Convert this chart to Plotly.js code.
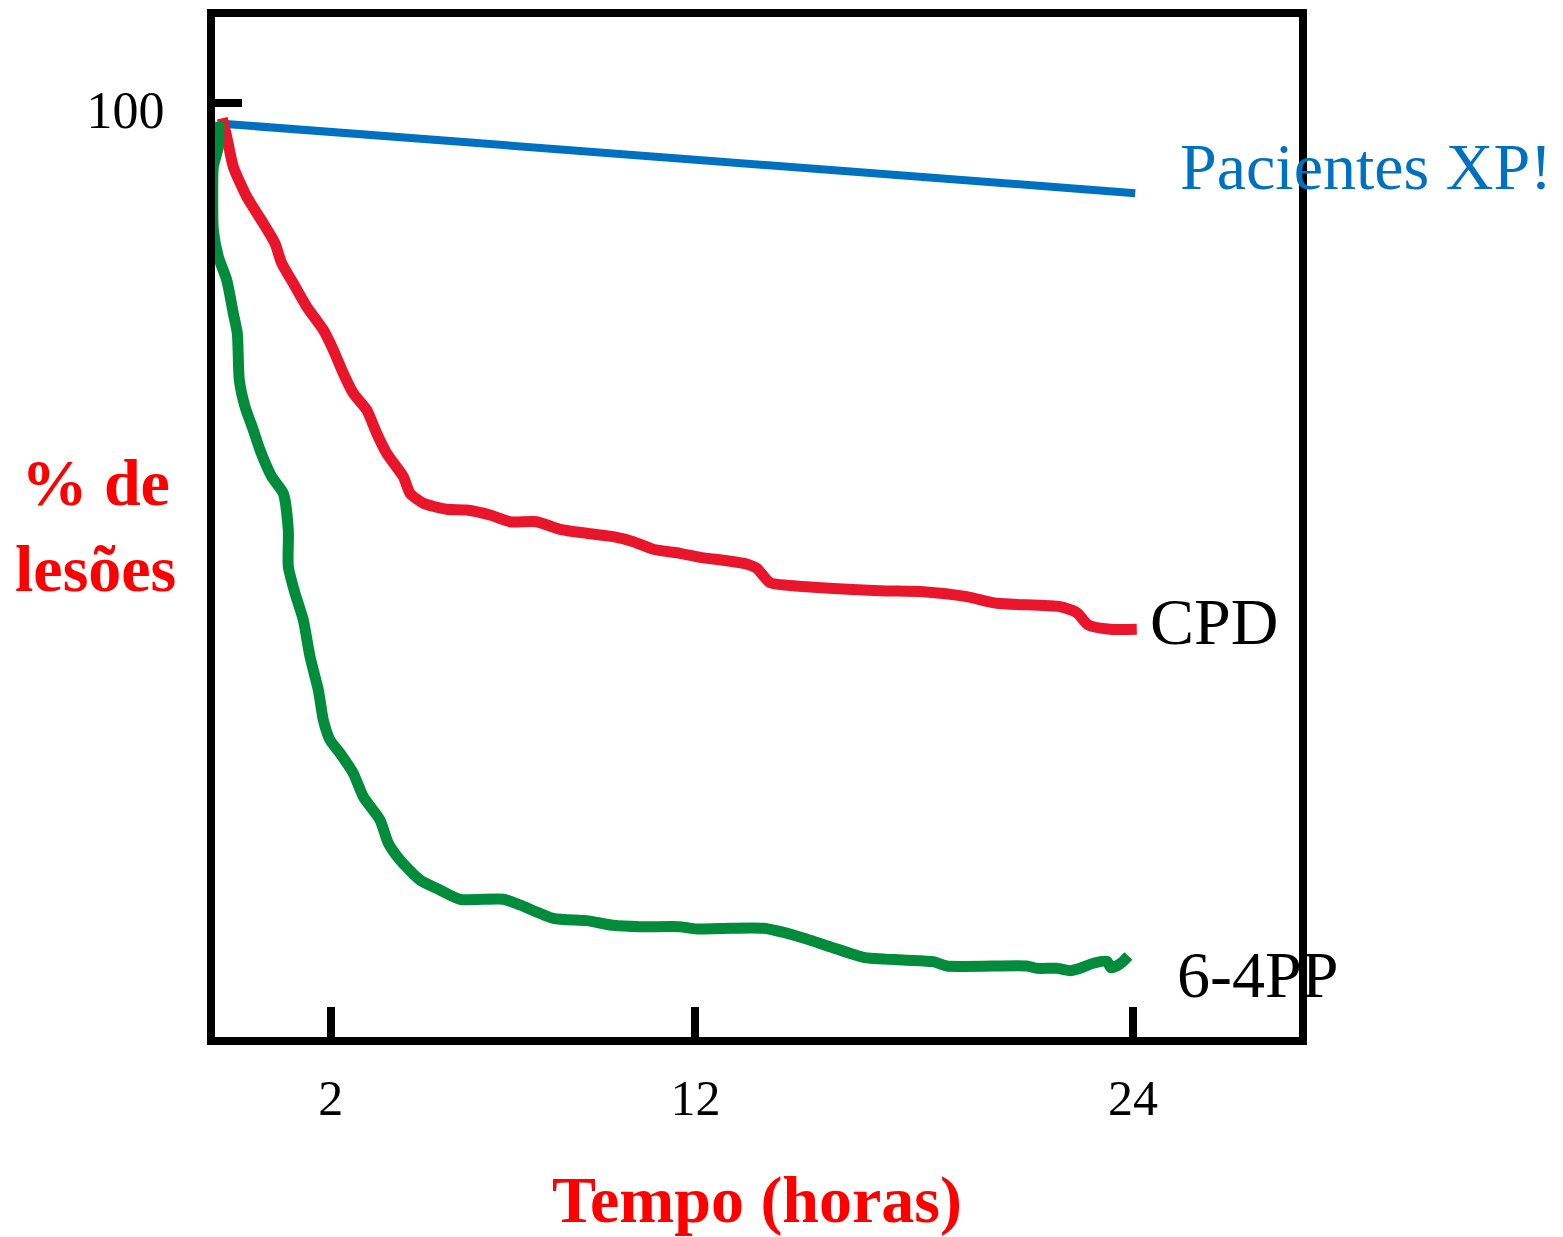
<!DOCTYPE html>
<html>
<head>
<meta charset="utf-8">
<script src="https://cdn.plot.ly/plotly-3.0.1.min.js"></script>
<style>html,body{margin:0;padding:0;background:#fff;}#chart{width:1563px;height:1237px;}</style>
</head>
<body>
<div id="chart"></div>
<script>
// ---- data (time in hours, % of lesions remaining) ----
const xpHours = [-0.87, 24.06];
const xpValues = [97.7, 90.3];

const cpdHours = [-0.971, -0.850, -0.669, -0.302, 0.154, 0.474, 0.658, 0.976, 1.344, 1.799,
  2.073, 2.347, 2.621, 2.989, 3.263, 3.537, 3.992, 4.176, 4.541, 5.182,
  5.731, 6.370, 6.918, 7.650, 8.289, 9.021, 9.751, 10.299, 10.847, 11.580,
  12.128, 12.860, 13.408, 13.683, 14.047, 15.054, 17.063, 18.251, 19.441, 20.263,
  21.999, 22.457, 22.775, 23.370, 24.102];
const cpdValues = [98.31, 96.34, 93.13, 89.92, 87.07, 84.93, 82.79, 80.65, 78.15, 75.66,
  73.52, 71.02, 68.88, 67.10, 64.60, 62.46, 59.96, 58.18, 57.11, 56.47,
  56.39, 55.86, 55.14, 55.14, 54.33, 53.90, 53.54, 53.00, 52.19, 51.76,
  51.33, 50.97, 50.62, 50.16, 48.62, 48.19, 47.76, 47.65, 47.12, 46.41,
  46.05, 45.41, 44.09, 43.63, 43.63];

const pp64Hours = [-1.061, -1.080, -1.217, -1.234, -1.217, -1.080, -0.850, -0.669, -0.559, -0.505,
  -0.348, -0.121, 0.063, 0.384, 0.702, 0.839, 0.839, 1.023, 1.250, 1.434,
  1.662, 1.799, 1.982, 2.257, 2.621, 2.896, 3.353, 3.581, 3.902, 4.450,
  4.999, 5.547, 6.734, 7.192, 8.105, 9.021, 9.751, 10.483, 11.580, 12.037,
  12.950, 13.864, 14.779, 15.693, 16.606, 17.702, 18.525, 18.892, 21.086, 21.360,
  21.909, 22.273, 22.547, 22.912, 23.280, 23.400, 23.550, 23.700, 23.872];
const pp64Values = [97.95, 95.27, 93.13, 89.92, 86.36, 83.50, 81.01, 77.44, 75.30, 70.31,
  67.45, 64.96, 62.81, 59.96, 58.18, 54.25, 50.33, 47.48, 44.62, 40.70,
  37.13, 33.92, 31.78, 30.36, 28.22, 25.71, 23.22, 20.73, 18.94, 16.80,
  15.73, 14.74, 14.74, 14.13, 12.70, 12.45, 11.95, 11.80, 11.80, 11.56,
  11.63, 11.63, 10.81, 9.66, 8.53, 8.24, 8.06, 7.60, 7.60, 7.35,
  7.35, 7.09, 7.35, 7.89, 8.10, 7.40, 7.60, 8.00, 8.67];

const xTickValues = [2, 12, 24];
const xTickLabels = ['2', '12', '24'];
const yTickValues = [100];
const yTickLabels = ['100'];

const seriesNames = ['Pacientes XP!', 'CPD', '6-4PP'];

// ---- styles ----
const BLUE = '#0070C0', RED = '#E8152B', GREEN = '#008C3A';
const SERIF = '"Liberation Serif", "Times New Roman", serif';

const traces = [
  {x: xpHours, y: xpValues, mode: 'lines', name: seriesNames[0],
   line: {color: BLUE, width: 8}},
  {x: cpdHours, y: cpdValues, mode: 'lines', name: seriesNames[1],
   line: {color: RED, width: 11, shape: 'spline', smoothing: 0.6}},
  {x: pp64Hours, y: pp64Values, mode: 'lines', name: seriesNames[2],
   line: {color: GREEN, width: 11, shape: 'spline', smoothing: 0.6}}
];

const layout = {
  width: 1563, height: 1237,
  margin: {l: 215, r: 264, t: 17, b: 200, pad: 0},
  paper_bgcolor: '#ffffff', plot_bgcolor: '#ffffff',
  showlegend: false,
  font: {family: SERIF, color: '#000000'},
  xaxis: {
    range: [-1.171, 28.55],
    tickmode: 'array', tickvals: xTickValues, ticktext: xTickLabels,
    ticks: 'inside', ticklen: 30, tickwidth: 8, tickcolor: '#000',
    tickfont: {family: SERIF, size: 50, color: '#000'},
    ticklabelstandoff: 10,
    showline: true, linewidth: 8, linecolor: '#000', mirror: true,
    showgrid: false, zeroline: false,
    title: {text: '<b>Tempo (horas)</b>', font: {family: SERIF, size: 66, color: '#FF0000'}, standoff: 70}
  },
  yaxis: {
    range: [0, 109.15],
    tickmode: 'array', tickvals: yTickValues, ticktext: yTickLabels,
    ticks: 'inside', ticklen: 27, tickwidth: 8, tickcolor: '#000',
    tickfont: {family: SERIF, size: 52, color: '#000'},
    ticklabelstandoff: 32, ticklabelshift: 7,
    showline: true, linewidth: 8, linecolor: '#000', mirror: true,
    showgrid: false, zeroline: false
  },
  annotations: [
    {xref: 'paper', yref: 'paper', x: 0.8893, y: 0.853, xanchor: 'left', yanchor: 'middle',
     text: seriesNames[0], showarrow: false, borderpad: 0,
     font: {family: SERIF, size: 66, color: BLUE}},
    {xref: 'paper', yref: 'paper', x: 0.8619, y: 0.4075, xanchor: 'left', yanchor: 'middle',
     text: seriesNames[1], showarrow: false, borderpad: 0,
     font: {family: SERIF, size: 66, color: '#000'}},
    {xref: 'paper', yref: 'paper', x: 0.8865, y: 0.0611, xanchor: 'left', yanchor: 'middle',
     text: seriesNames[2], showarrow: false, borderpad: 0,
     font: {family: SERIF, size: 66, color: '#000'}},
    {xref: 'paper', yref: 'paper', x: -0.1098, y: 0.501, xanchor: 'center', yanchor: 'middle',
     text: '<b>% de<br>lesões</b>', showarrow: false, align: 'center', borderpad: 0,
     font: {family: SERIF, size: 66, color: '#FF0000'}}
  ]
};

Plotly.newPlot('chart', traces, layout, {displayModeBar: false, staticPlot: true});
</script>
</body>
</html>
